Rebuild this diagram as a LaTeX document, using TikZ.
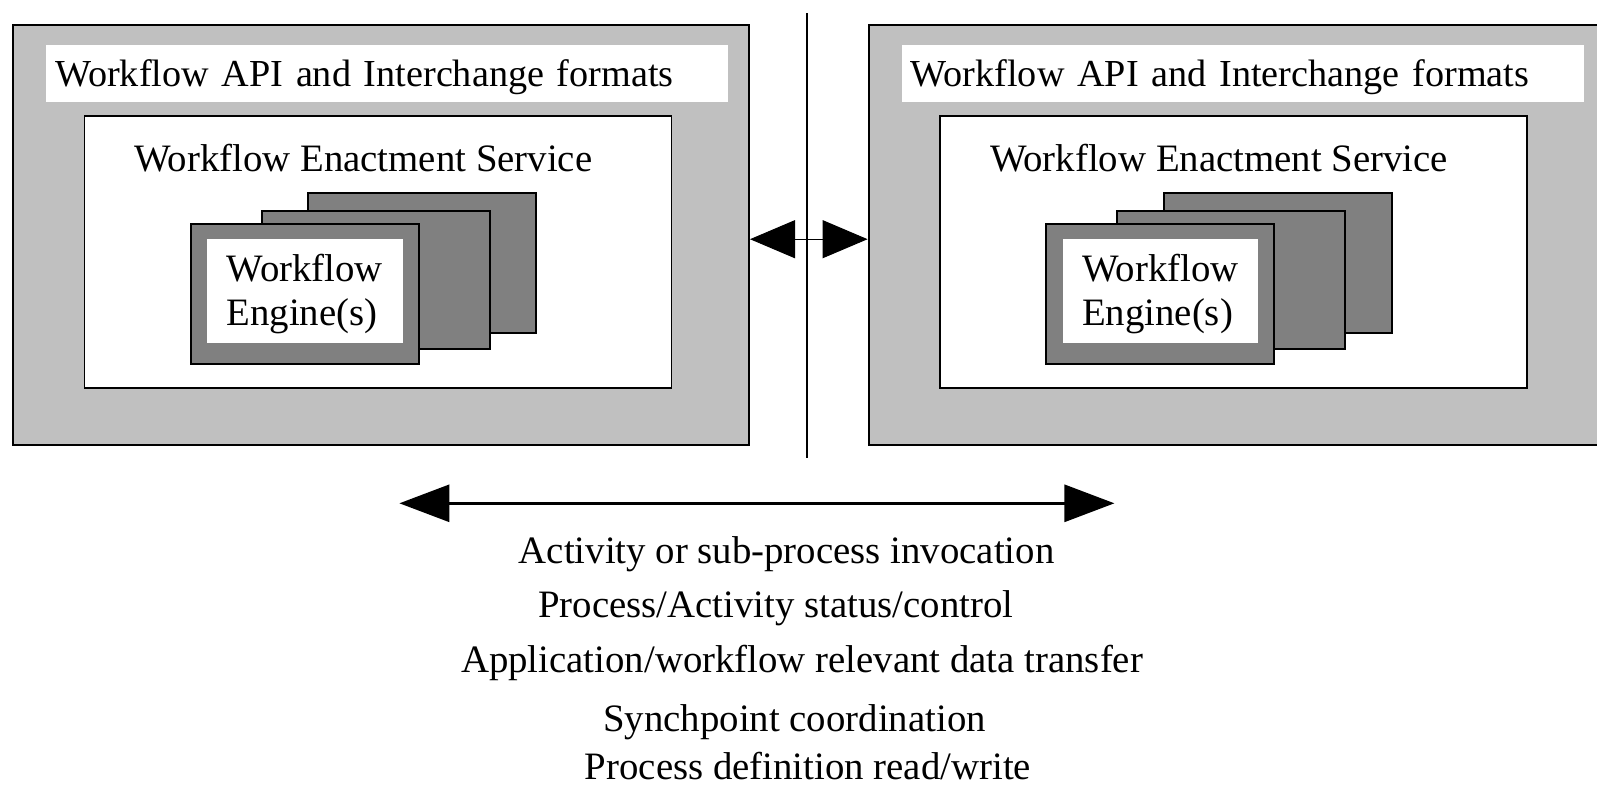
\documentclass[tikz,border=0pt]{standalone}
\usepackage{fontspec}
\setmainfont{Liberation Serif}
\usepackage{tikz}
\usetikzlibrary{arrows.meta}
\definecolor{sysgray}{HTML}{C0C0C0}
\definecolor{enginegray}{HTML}{808080}
\newcommand{\wffont}{\fontsize{19.4}{22.5}\selectfont}
\tikzset{%
  x=0.5pt, y=-0.5pt,
  every node/.style={
    inner sep=0pt,
    font=\wffont},
  sysbox/.style={
    draw, line width=1pt, fill=sysgray,
    minimum width=368pt, minimum height=210pt},
  apibar/.style={
    fill=white, minimum width=341pt, minimum height=28.3pt,
    inner xsep=4.6pt, text width=331.8pt, align=left,
    font=\fontsize{19.1}{22.5}\selectfont,
    text height=14.5pt, text depth=1.5pt},
  servicebox/.style={
    draw, line width=0.9pt, fill=white,
    minimum width=293.5pt, minimum height=136pt},
  servicetitle/.style={anchor=base west},
  enginecard/.style={
    draw, line width=1pt, fill=enginegray,
    minimum width=114pt, minimum height=70pt},
  enginelabel/.style={
    fill=white, minimum width=97.75pt, minimum height=52pt,
    inner xsep=9.75pt, text width=78.25pt, align=left,
    font=\fontsize{19.4}{22}\selectfont,
    text height=17pt},
  flowtext/.style={anchor=base},
  peerlink/.style={
    draw, line width=0.5pt,
    {Triangle[length=22.5pt,width=19pt]}-{Triangle[length=22.5pt,width=19pt]}},
  flowarrow/.style={
    draw, line width=1.5pt,
    {Triangle[length=25pt,width=18.5pt]}-{Triangle[length=25pt,width=18.5pt]}} %
}

\begin{document}
\begin{tikzpicture}
  \useasboundingbox (0,0) rectangle (1597,787);

  % left system
  \node[sysbox] (lsys) at (381,235) {};
  \node[apibar] (lapi) at (386.9,73.35) {Workflow API and Interchange formats};
  \node[servicebox] (lwes) at (378,252.3) {};
  \node[servicetitle] (lwestitle) at (134,171.5) {Workflow Enactment Service};
  \node[enginecard] (leng3) at (422.1,263.2) {};
  \node[enginecard, minimum height=69pt] (leng2) at (375.5,279.5) {};
  \node[enginecard] (leng1) at (304.5,294) {};
  \node[enginelabel] (lengtext) at (304.8,291) {Workflow\\Engine(s)};

  % right system
  \node[sysbox] (rsys) at (1236.6,235) {};
  \node[apibar] (rapi) at (1242.5,73.35) {Workflow API and Interchange formats};
  \node[servicebox] (rwes) at (1233.6,252.3) {};
  \node[servicetitle] (rwestitle) at (989.6,171.5) {Workflow Enactment Service};
  \node[enginecard] (reng3) at (1277.7,263.2) {};
  \node[enginecard, minimum height=69pt] (reng2) at (1231.1,279.5) {};
  \node[enginecard] (reng1) at (1160.1,294) {};
  \node[enginelabel] (rengtext) at (1160.4,291) {Workflow\\Engine(s)};

  \coordinate (vtop) at (807,13);
  \coordinate (vbot) at (807,458);
  \draw[line width=0.6pt] (vtop) -- (vbot);

  \draw[peerlink] ([yshift=-2.1pt]lsys.east) -- ([yshift=-2.1pt]rsys.west);

  \coordinate (flowl) at (399.4,503.3);
  \coordinate (flowr) at (1114.4,503.3);
  \draw[flowarrow] (flowl) -- (flowr);

  \node[flowtext] (flow1) at (786.6,563) {Activity or sub-process invocation};
  \node[flowtext] (flow2) at (776,617.5) {Process/Activity status/control};
  \node[flowtext] (flow3) at (802,672.5) {Application/workflow relevant data transfer};
  \node[flowtext] (flow4) at (794.5,731) {Synchpoint coordination};
  \node[flowtext] (flow5) at (808,779.5) {Process definition read/write};

\end{tikzpicture}
\end{document}
